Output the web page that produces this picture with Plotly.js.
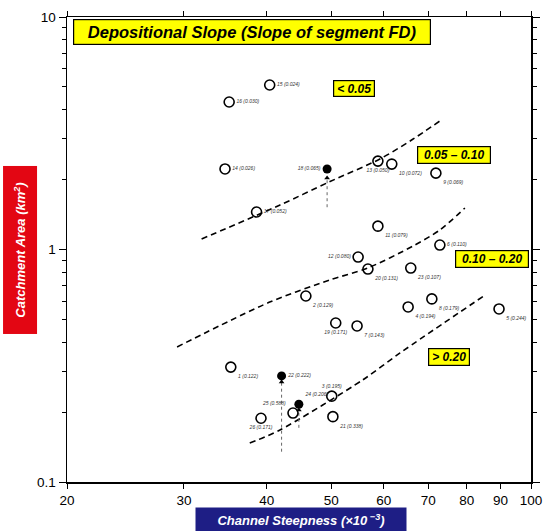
<!DOCTYPE html>
<html>
<head>
<meta charset="utf-8">
<script src="https://cdn.plot.ly/plotly-3.0.1.min.js"></script>
<style>html,body{margin:0;padding:0;background:#fff;}#chart{width:547px;height:531px;}</style>
</head>
<body>
<div id="chart"></div>
<script>
// Open circles (catchments)
const openIds   = [1, 2, 3, 4, 5, 6, 7, 8, 9, 10, 11, 12, 13, 14, 15, 16, 17, 19, 20, 21, 23, 25, 26];
const openSteep = [35.3, 45.8, 50.1, 65.3, 89.5, 72.9, 54.7, 70.9, 71.9, 61.7, 58.8, 54.9, 58.8, 34.6, 40.4, 35.1, 38.6, 50.8, 56.8, 50.3, 65.9, 43.8, 39.2];
const openArea  = [0.312, 0.631, 0.234, 0.566, 0.555, 1.045, 0.469, 0.613, 2.13, 2.33, 1.26, 0.928, 2.40, 2.22, 5.10, 4.31, 1.45, 0.483, 0.824, 0.191, 0.832, 0.198, 0.188];
const openSlope = ["0.122", "0.129", "0.195", "0.194", "0.244", "0.110", "0.143", "0.179", "0.069", "0.072", "0.079", "0.080", "0.050", "0.026", "0.024", "0.030", "0.052", "0.171", "0.131", "0.338", "0.107", "0.588", "0.171"];
const openPos   = ["bottom right", "bottom right", "top center", "bottom right", "bottom right", "middle right", "bottom right", "bottom right", "bottom right", "bottom right", "bottom right", "middle left", "bottom center", "middle right", "middle right", "middle right", "middle right", "bottom center", "bottom right", "bottom right", "bottom right", "top left", "bottom center"];

// Filled circles
const fillIds   = [18, 22, 24];
const fillSteep = [49.3, 42.1, 44.7];
const fillArea  = [2.22, 0.286, 0.216];
const fillSlope = ["0.065", "0.222", "0.206"];
const fillPos   = ["middle left", "middle right", "top right"];

// Arrows below filled points (top = arrow head, bottom = start of dotted line)
const arrowTop    = [2.03, 0.269, 0.204];
const arrowBottom = [1.52, 0.135, 0.171];

// Dashed class boundaries
const line1X = [31.9, 41.8, 49.8, 59.2, 66.0, 72.9];
const line1Y = [1.11, 1.55, 1.96, 2.45, 2.95, 3.57];
const line2X = [29.3, 40.4, 49.8, 56.8, 66.4, 72.9, 79.5];
const line2Y = [0.381, 0.594, 0.740, 0.833, 1.035, 1.213, 1.508];
const line3X = [37.7, 41.8, 55.8, 63.5, 85.3];
const line3Y = [0.147, 0.167, 0.275, 0.359, 0.637];

// Tick labels
const xTicks = [20, 30, 40, 50, 60, 70, 80, 90, 100];
const yTicks = [0.1, 1, 10];
const yMinor = [0.2, 0.3, 0.4, 0.5, 0.6, 0.7, 0.8, 0.9, 2, 3, 4, 5, 6, 7, 8, 9];

const FONT = "Liberation Sans, Arial, sans-serif";

const lbl = (ids, s) => ids.map((id, i) => "<i>" + id + " (" + s[i] + ")</i>");

const traces = [];
const dashed = [[line1X, line1Y], [line2X, line2Y], [line3X, line3Y]];
dashed.forEach(([lx, ly]) => traces.push({
  x: lx, y: ly, mode: "lines", type: "scatter", hoverinfo: "skip",
  line: {color: "#000", width: 1.6, dash: "6px,4px", shape: "spline", smoothing: 0.8}
}));
fillSteep.forEach((sx, i) => traces.push({
  x: [sx, sx], y: [arrowBottom[i], arrowTop[i]], mode: "lines", type: "scatter",
  line: {color: "#666", width: 1, dash: "dot"}
}));
traces.push({
  x: fillSteep, y: arrowTop, mode: "markers", type: "scatter",
  marker: {symbol: "triangle-up", size: 5, color: "#000"}
});
traces.push({
  x: openSteep, y: openArea, mode: "markers+text", type: "scatter",
  text: lbl(openIds, openSlope), textposition: openPos,
  textfont: {family: FONT, size: 5, color: "#333"},
  marker: {symbol: "circle-open", size: 10, color: "#000", line: {width: 1.6, color: "#000"}}
});
traces.push({
  x: fillSteep, y: fillArea, mode: "markers+text", type: "scatter",
  text: lbl(fillIds, fillSlope), textposition: fillPos,
  textfont: {family: FONT, size: 5, color: "#333"},
  marker: {symbol: "circle", size: 9, color: "#000"}
});

const box = (txt, x, y, w, h, size) => ({
  text: "<b><i>" + txt + "</i></b>", xref: "paper", yref: "paper", x: x, y: y,
  xanchor: "center", yanchor: "middle",
  showarrow: false, bgcolor: "#ffff00", bordercolor: "#000", borderwidth: 1.2,
  width: w, height: h, borderpad: 0, font: {family: FONT, size: size, color: "#000"}
});

const annotations = [
  Object.assign(box("Depositional Slope (Slope of segment FD)", 0.013, 0.996, 356, 24, 16.5), {xanchor: "left", yanchor: "top", align: "center"}),
  box("&lt; 0.05", 0.6175, 0.847, 40, 15, 12),
  box("0.05 – 0.10", 0.834, 0.704, 72, 16, 12),
  box("0.10 – 0.20", 0.915, 0.480, 72, 16, 12),
  box("&gt; 0.20", 0.823, 0.268, 40, 16, 12),
  {text: "<b><i>Channel Steepness (×10<sup> −3</sup>)</i></b>", xref: "paper", yref: "paper",
   x: 0.504, y: -0.0817, xanchor: "center", yanchor: "middle",
   showarrow: false, bgcolor: "#1e1e85", width: 208, height: 22,
   font: {family: FONT, size: 13, color: "#fff"}},
  {text: "<b><i>Catchment Area (km<sup>2</sup>)</i></b>", xref: "paper", yref: "paper",
   x: -0.1002, y: 0.499, xanchor: "center", yanchor: "middle",
   showarrow: false, bgcolor: "#e30613", width: 165, height: 31,
   textangle: -90, font: {family: FONT, size: 13, color: "#fff"}}
];

const layout = {
  width: 547, height: 531,
  margin: {l: 67, r: 16, t: 17, b: 49},
  paper_bgcolor: "#fff", plot_bgcolor: "#fff",
  showlegend: false,
  font: {family: FONT, size: 13, color: "#000"},
  xaxis: {
    type: "log", range: [Math.log10(20), Math.log10(100)],
    tickvals: xTicks, ticktext: xTicks.map(String),
    ticks: "outside", ticklen: 5, tickwidth: 1, tickcolor: "#000",
    showline: true, linecolor: "#000", linewidth: 1.5, mirror: "allticks",
    showgrid: false, zeroline: false, tickfont: {family: FONT, size: 13.5}
  },
  yaxis: {
    type: "log", range: [-1, 1],
    tickvals: yTicks, ticktext: yTicks.map(String),
    ticks: "outside", ticklen: 7, tickwidth: 1, tickcolor: "#000",
    minor: {tickvals: yMinor, ticks: "outside", ticklen: 4, tickcolor: "#000", showgrid: false},
    showline: true, linecolor: "#000", linewidth: 1.5, mirror: "allticks",
    showgrid: false, zeroline: false, tickfont: {family: FONT, size: 13.5}
  },
  annotations: annotations
};

Plotly.newPlot("chart", traces, layout, {staticPlot: true, displayModeBar: false});
</script>
</body>
</html>
